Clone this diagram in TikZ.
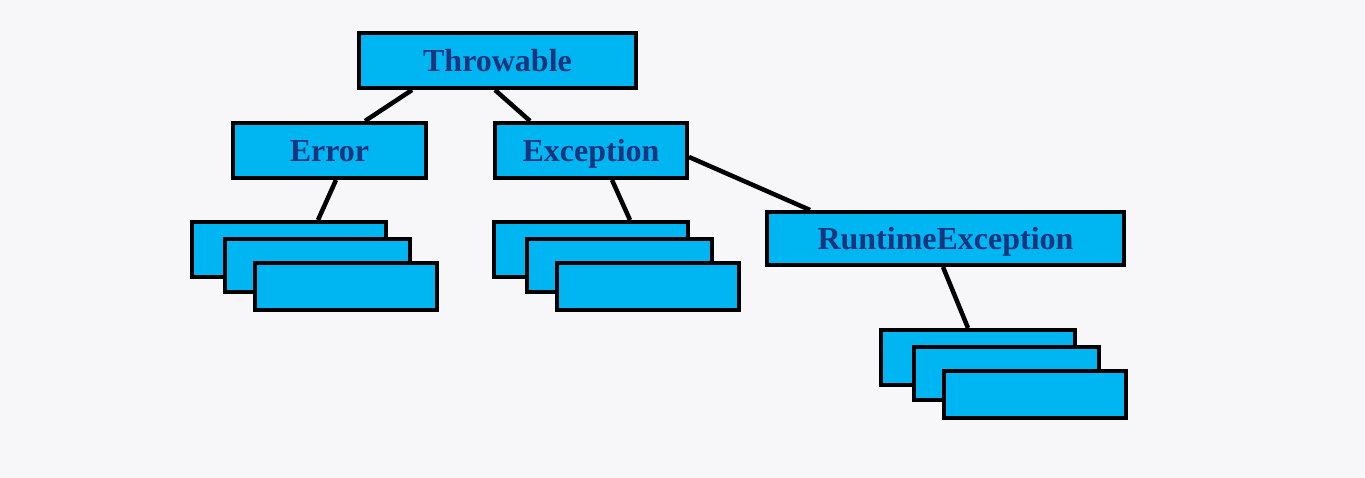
\documentclass[tikz,border=0pt]{standalone}
\usepackage{fontspec}
\setmainfont{Liberation Serif}
\usetikzlibrary{calc}
\definecolor{boxfill}{RGB}{0,182,242}
\definecolor{labelblue}{RGB}{24,52,124}
\definecolor{paper}{RGB}{247,247,249}
% three stacked empty boxes, #1 = name, (#2,#3) = centre of the back box
\newcommand{\boxstack}[3]{%
\node[cls, minimum width=194, minimum height=55] (#11) at (#2,#3) {};
\node[cls, minimum width=185, minimum height=53] (#12) at ($(#2,#3)+(28.5,16)$) {};
\node[cls, minimum width=182, minimum height=47] (#13) at ($(#2,#3)+(57,37)$) {};
}
\begin{document}
\begin{tikzpicture}[x=1pt, y=-1pt,
  cls/.style={draw=black, fill=boxfill, line width=4pt, rectangle, inner sep=0pt},
  link/.style={draw=black, line width=4.5pt},
  every node/.style={font=\fontsize{32}{36}\selectfont\bfseries, text=labelblue,
    text height=22pt, text depth=0pt}]
\fill[paper] (0,0) rectangle (1365,478);
\node[cls, minimum width=277, minimum height=55] (throwable) at (497.5,60.5) {Throwable};
\node[cls, minimum width=193, minimum height=55] (error) at (329.5,150.5) {Error};
\node[cls, minimum width=192, minimum height=55] (exception) at (591,150.5) {Exception};
\node[cls, minimum width=357, minimum height=53] (runtime) at (945.5,238.5) {RuntimeException};
\draw[link] ($(throwable.south)+(-85.5,0)$) -- ($(error.north)+(35.5,0)$);
\draw[link] ($(throwable.south)+(-2.5,0)$) -- ($(exception.north)+(-61,0)$);
\draw[link] ($(exception.east)+(0,6.5)$) -- ($(runtime.north)+(-135.5,0)$);
\boxstack{errsub}{289}{249.5}
\boxstack{excsub}{591}{249.5}
\boxstack{rtsub}{978}{357.5}
\draw[link] ($(error.south)+(6.5,0)$) -- ($(errsub1.north)+(29,0)$);
\draw[link] ($(exception.south)+(21,0)$) -- ($(excsub1.north)+(39,0)$);
\draw[link] ($(runtime.south)+(-2.5,0)$) -- ($(rtsub1.north)+(-10,0)$);
\end{tikzpicture}
\end{document}
